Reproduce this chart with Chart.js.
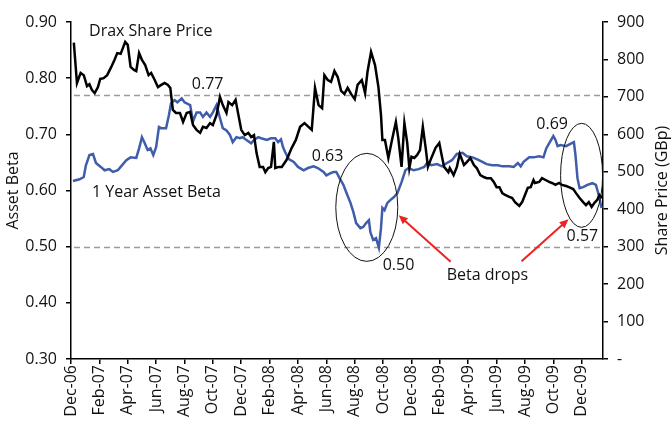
<!DOCTYPE html>
<html>
<head>
<meta charset="utf-8">
<script src="https://cdn.jsdelivr.net/npm/chart.js@4.4.1/dist/chart.umd.min.js"></script>
<style>
  html, body { margin: 0; padding: 0; background: #fff; }
  #wrap { width: 672px; height: 427px; }
</style>
</head>
<body>
<div id="wrap"><canvas id="drax" width="672" height="427"></canvas></div>
<script>
// x is months since Dec-06
const tickLabels = ['Dec-06', 'Feb-07', 'Apr-07', 'Jun-07', 'Aug-07', 'Oct-07', 'Dec-07', 'Feb-08', 'Apr-08', 'Jun-08',
  'Aug-08', 'Oct-08', 'Dec-08', 'Feb-09', 'Apr-09', 'Jun-09', 'Aug-09', 'Oct-09', 'Dec-09'];

const priceMonths = [0.2, 0.42, 0.68, 0.9, 1.13, 1.3, 1.48, 1.67, 1.9, 2.06, 2.3, 2.55, 2.84, 3.07, 3.26, 3.5, 3.66, 3.82, 4.0, 4.2,
  4.44, 4.6, 4.8, 5.0, 5.23, 5.47, 5.65, 5.9, 6.13, 6.36, 6.6, 6.83, 7.0, 7.18, 7.4, 7.68, 7.9, 8.15, 8.4, 8.6,
  8.85, 9.1, 9.3, 9.55, 9.8, 10.0, 10.26, 10.5, 10.7, 10.96, 11.1, 11.36, 11.6, 11.8, 12.0, 12.25, 12.5, 12.7, 12.9, 13.08,
  13.3, 13.54, 13.7, 13.9, 14.1, 14.3, 14.4, 14.65, 14.86, 15.2, 15.56, 15.85, 16.15, 16.46, 16.74, 16.97, 17.2, 17.45, 17.7, 17.86,
  18.1, 18.33, 18.57, 18.8, 19.04, 19.27, 19.5, 19.74, 20.0, 20.2, 20.5, 20.73, 20.9, 21.15, 21.43, 21.67, 21.85, 21.95, 22.13, 22.37,
  22.6, 22.9, 23.07, 23.3, 23.5, 23.7, 23.85, 24.0, 24.2, 24.4, 24.6, 24.8, 25.0, 25.16, 25.4, 25.7, 25.96, 26.15, 26.3, 26.6,
  26.7, 26.97, 27.2, 27.4, 27.7, 27.9, 28.15, 28.4, 28.6, 28.85, 29.1, 29.3, 29.6, 29.8, 30.0, 30.2, 30.4, 30.6, 30.9, 31.1,
  31.3, 31.6, 31.8, 32.0, 32.2, 32.4, 32.6, 32.7, 33.0, 33.2, 33.45, 33.7, 33.9, 34.15, 34.4, 34.6, 34.9, 35.1, 35.4, 35.6,
  35.85, 36.1, 36.3, 36.5, 36.7, 36.9, 37.1, 37.25, 37.45];
const priceValues = [845, 737, 764, 758, 729, 734, 718, 710, 726, 748, 750, 758, 780, 799, 817, 815, 831, 847, 839, 780,
  772, 769, 817, 799, 785, 758, 764, 745, 726, 732, 737, 732, 724, 665, 657, 657, 633, 657, 660, 625,
  612, 604, 620, 617, 630, 625, 652, 700, 678, 657, 686, 678, 692, 652, 612, 598, 604, 593, 598, 550,
  513, 513, 499, 510, 513, 580, 510, 513, 513, 532, 564, 585, 620, 630, 620, 612, 724, 678, 670, 758,
  745, 740, 769, 753, 716, 708, 724, 708, 694, 732, 745, 710, 767, 820, 785, 726, 652, 585, 585, 537,
  580, 633, 590, 513, 630, 577, 510, 540, 537, 545, 558, 620, 564, 513, 537, 564, 577, 540, 513, 499,
  510, 491, 513, 548, 518, 526, 537, 518, 510, 491, 486, 483, 483, 473, 459, 459, 443, 438, 433, 430,
  419, 409, 419, 438, 457, 459, 478, 470, 473, 483, 478, 473, 470, 465, 470, 465, 462, 459, 454, 443,
  430, 419, 411, 419, 406, 417, 425, 438, 430];

const betaMonths = [0.14, 0.6, 0.9, 1.05, 1.3, 1.55, 1.76, 2.1, 2.37, 2.7, 2.96, 3.3, 3.5, 3.9, 4.2, 4.6, 4.8, 5.0, 5.2, 5.4,
  5.6, 5.8, 6.0, 6.2, 6.35, 6.7, 6.9, 7.05, 7.3, 7.5, 7.8, 8.0, 8.4, 8.6, 8.85, 9.1, 9.3, 9.55, 9.8, 10.0,
  10.26, 10.5, 10.7, 10.96, 11.2, 11.4, 11.66, 11.9, 12.1, 12.37, 12.7, 12.9, 13.2, 13.4, 13.8, 14.1, 14.4, 14.6, 14.8, 14.95,
  15.1, 15.35, 15.7, 16.0, 16.4, 16.7, 17.1, 17.4, 17.8, 18.0, 18.3, 18.5, 18.7, 19.0, 19.2, 19.4, 19.7, 19.9, 20.1, 20.4,
  20.6, 20.8, 21.0, 21.1, 21.3, 21.5, 21.7, 21.85, 21.95, 22.1, 22.3, 22.6, 22.75, 23.0, 23.3, 23.57, 23.8, 24.15, 24.5, 24.9,
  25.1, 25.4, 25.8, 26.15, 26.5, 26.85, 27.2, 27.6, 27.9, 28.3, 28.6, 29.0, 29.3, 29.7, 30.1, 30.4, 30.9, 31.2, 31.5, 31.7,
  31.9, 32.3, 32.6, 33.0, 33.3, 33.5, 33.7, 34.0, 34.15, 34.3, 34.5, 34.9, 35.2, 35.45, 35.56, 35.7, 35.85, 36.1, 36.4, 36.75,
  37.0, 37.2, 37.4];
const betaValues = [0.617, 0.620, 0.624, 0.645, 0.663, 0.665, 0.649, 0.642, 0.636, 0.638, 0.633, 0.636, 0.642, 0.654, 0.659, 0.658, 0.675, 0.695, 0.684, 0.672,
  0.675, 0.663, 0.677, 0.713, 0.711, 0.711, 0.734, 0.755, 0.761, 0.757, 0.764, 0.757, 0.752, 0.723, 0.739, 0.739, 0.731, 0.739, 0.731, 0.739,
  0.752, 0.729, 0.711, 0.707, 0.699, 0.686, 0.695, 0.693, 0.695, 0.690, 0.684, 0.690, 0.695, 0.693, 0.690, 0.693, 0.693, 0.686, 0.691, 0.677,
  0.668, 0.656, 0.651, 0.642, 0.636, 0.640, 0.643, 0.640, 0.633, 0.627, 0.631, 0.633, 0.633, 0.619, 0.610, 0.597, 0.578, 0.562, 0.542, 0.533,
  0.535, 0.542, 0.547, 0.526, 0.512, 0.515, 0.498, 0.533, 0.569, 0.565, 0.578, 0.585, 0.588, 0.595, 0.615, 0.636, 0.640, 0.636, 0.638, 0.642,
  0.649, 0.645, 0.647, 0.643, 0.649, 0.654, 0.665, 0.667, 0.661, 0.659, 0.656, 0.651, 0.647, 0.645, 0.645, 0.643, 0.643, 0.642, 0.649, 0.643,
  0.651, 0.659, 0.659, 0.661, 0.659, 0.675, 0.684, 0.697, 0.690, 0.679, 0.681, 0.679, 0.683, 0.686, 0.663, 0.622, 0.604, 0.606, 0.610, 0.613,
  0.610, 0.592, 0.569];

const refLines = [0.77, 0.50];

// text notes, placed in data units (x month, y beta)
const notes = [
  { text: 'Drax Share Price', x: 1.27, y: 0.884 },
  { text: '1 Year Asset Beta', x: 1.48, y: 0.597 },
  { text: '0.77', x: 8.52, y: 0.789 },
  { text: '0.63', x: 16.97, y: 0.661 },
  { text: '0.50', x: 21.97, y: 0.467 },
  { text: '0.69', x: 32.8, y: 0.718 },
  { text: '0.57', x: 34.93, y: 0.519 },
  { text: 'Beta drops', x: 26.48, y: 0.448 }
];
const circles = [
  { x: 20.85, y: 0.570, rx: 31, ry: 54 },
  { x: 35.99, y: 0.627, rx: 21, ry: 52 }
];
const arrows = [
  { x0: 26.76, y0: 0.473, x1: 23.1, y1: 0.556 },
  { x0: 31.76, y0: 0.474, x1: 35.07, y1: 0.549 }
];

const FONT = "'Open Sans', sans-serif";
const pts = (xs, ys) => xs.map((x, i) => ({ x: x, y: ys[i] }));

const extras = {
  id: 'extras',
  beforeDatasetsDraw(chart) {
    const { ctx, chartArea: a, scales } = chart;
    ctx.save();
    ctx.strokeStyle = '#9a9a9a';
    ctx.lineWidth = 1.6;
    ctx.setLineDash([6, 4]);
    refLines.forEach(v => {
      const y = Math.round(scales.y.getPixelForValue(v)) + 0.5;
      ctx.beginPath();
      ctx.moveTo(a.left + 3, y);
      ctx.lineTo(a.right - 2, y);
      ctx.stroke();
    });
    ctx.restore();
  },
  afterDatasetsDraw(chart) {
    const { ctx, chartArea: a, scales } = chart;
    const px = v => scales.x.getPixelForValue(v);
    const py = v => scales.y.getPixelForValue(v);
    ctx.save();
    ctx.strokeStyle = '#111';
    ctx.lineWidth = 1;
    circles.forEach(c => {
      ctx.beginPath();
      ctx.ellipse(px(c.x), py(c.y), c.rx, c.ry, 0, 0, Math.PI * 2);
      ctx.stroke();
    });
    ctx.strokeStyle = '#ee2222';
    ctx.fillStyle = '#ee2222';
    ctx.lineWidth = 2;
    arrows.forEach(ar => {
      const x0 = px(ar.x0), y0 = py(ar.y0), x1 = px(ar.x1), y1 = py(ar.y1);
      const ang = Math.atan2(y1 - y0, x1 - x0);
      ctx.beginPath();
      ctx.moveTo(x0, y0);
      ctx.lineTo(x1 - 6 * Math.cos(ang), y1 - 6 * Math.sin(ang));
      ctx.stroke();
      ctx.beginPath();
      ctx.moveTo(x1, y1);
      ctx.lineTo(x1 - 9 * Math.cos(ang) + 4 * Math.sin(ang), y1 - 9 * Math.sin(ang) - 4 * Math.cos(ang));
      ctx.lineTo(x1 - 9 * Math.cos(ang) - 4 * Math.sin(ang), y1 - 9 * Math.sin(ang) + 4 * Math.cos(ang));
      ctx.closePath();
      ctx.fill();
    });
    ctx.fillStyle = '#111';
    ctx.font = '16px ' + FONT;
    ctx.textAlign = 'left';
    ctx.textBaseline = 'middle';
    notes.forEach(n => ctx.fillText(n.text, px(n.x), py(n.y)));
    ctx.restore();
  },
  afterDraw(chart) {
    const { ctx, chartArea: a } = chart;
    ctx.save();
    ctx.fillStyle = '#111';
    ctx.font = '16px ' + FONT;
    ctx.textAlign = 'center';
    ctx.textBaseline = 'middle';
    ctx.translate(662, (a.top + a.bottom) / 2);
    ctx.rotate(-Math.PI / 2);
    ctx.fillText('Share Price (GBp)', 0, 0);
    ctx.restore();
  }
};

const axisFont = { family: FONT, size: 16 };

new Chart(document.getElementById('drax'), {
  type: 'line',
  data: {
    datasets: [{
      label: 'Drax Share Price',
      data: pts(priceMonths, priceValues),
      yAxisID: 'y2',
      borderColor: '#000',
      borderWidth: 2.5,
      pointRadius: 0,
      tension: 0
    }, {
      label: '1 Year Asset Beta',
      data: pts(betaMonths, betaValues),
      yAxisID: 'y',
      borderColor: '#3f5dab',
      borderWidth: 2.5,
      pointRadius: 0,
      tension: 0
    }]
  },
  options: {
    responsive: false,
    animation: false,
    layout: { padding: { top: 22, left: 0, right: 0, bottom: 0 } },
    plugins: {
      legend: { display: false },
      tooltip: { enabled: false }
    },
    scales: {
      x: {
        type: 'linear',
        min: 0,
        max: 37.5,
        afterFit: s => { s.height = 68; },
        grid: { drawOnChartArea: false, color: '#000', lineWidth: 1.5, tickLength: 5 },
        border: { color: '#000', width: 1.5 },
        ticks: {
          stepSize: 2,
          includeBounds: false,
          autoSkip: false,
          minRotation: 90,
          maxRotation: 90,
          padding: 1,
          color: '#111',
          font: axisFont,
          callback: v => (v % 2 === 0 ? tickLabels[v / 2] : '')
        }
      },
      y: {
        position: 'left',
        min: 0.3,
        max: 0.9,
        afterFit: s => { s.width = 71; },
        grid: { drawOnChartArea: false, color: '#000', lineWidth: 1.5, tickLength: 5 },
        border: { color: '#000', width: 1.5 },
        title: { display: true, text: 'Asset Beta', color: '#111', font: axisFont, padding: { top: 4, bottom: 4 } },
        ticks: {
          stepSize: 0.1,
          padding: 9,
          color: '#111',
          font: axisFont,
          callback: v => v.toFixed(2)
        }
      },
      y2: {
        position: 'right',
        min: 0,
        max: 900,
        afterFit: s => { s.width = 69; },
        grid: { drawOnChartArea: false, color: '#000', lineWidth: 1.5, tickLength: 5 },
        border: { color: '#000', width: 1.5 },
        ticks: {
          stepSize: 100,
          padding: 9,
          color: '#111',
          font: axisFont,
          callback: v => (v === 0 ? '-' : v)
        }
      }
    }
  },
  plugins: [extras]
});
</script>
</body>
</html>
